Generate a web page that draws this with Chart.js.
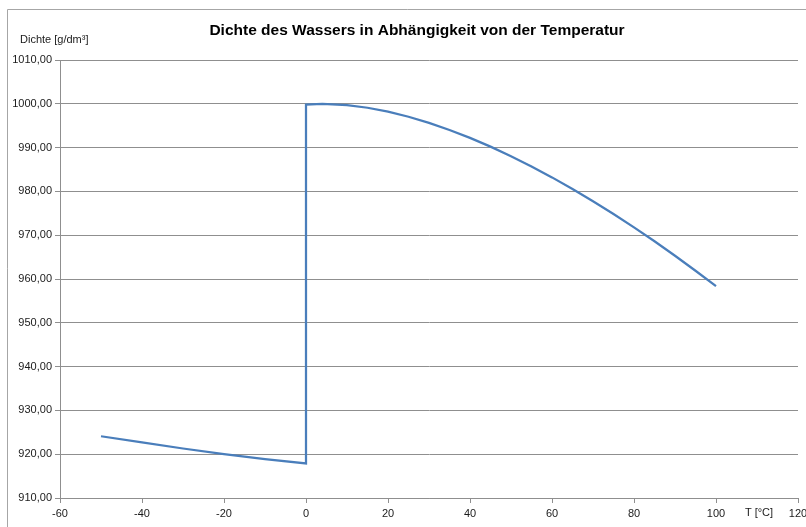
<!DOCTYPE html>
<html lang="de">
<head>
    <meta charset="UTF-8">
    <title>Dichte des Wassers</title>
    <style>
        body { margin: 0; background: #fff; }
        #wrap { position: relative; width: 806px; height: 527px; }
    </style>
    <script src="https://cdn.jsdelivr.net/npm/chart.js"></script>
</head>
<body>
    <div id="wrap"><canvas id="chart"></canvas></div>

    <script>
        // Temperatur [°C] und Dichte [g/dm³]
        const temps = [-50, -40, -30, -20, -10, 0,
                       0, 4, 10, 15, 20, 25, 30, 35, 40, 45, 50, 55, 60, 65, 70, 75, 80, 85, 90, 95, 100];
        const density = [924.1, 922.7, 921.3, 920.0, 918.9, 917.9,
                         999.84, 999.97, 999.70, 999.10, 998.21, 997.05, 995.65, 994.03, 992.22, 990.22,
                         988.04, 985.69, 983.20, 980.55, 977.76, 974.84, 971.79, 968.61, 965.31, 961.89, 958.36];

        const title = 'Dichte des Wassers in Abhängigkeit von der Temperatur';
        const yLabel = 'Dichte [g/dm³]';
        const xLabel = 'T [°C]';

        const font = "'Liberation Sans', Arial, sans-serif";
        const gridCol = '#8f8f8f';

        const points = temps.map((t, i) => ({ x: t, y: density[i] }));

        // Rahmen und Beschriftungen wie im Excel-Diagramm
        const deco = {
            id: 'deco',
            beforeDraw(chart) {
                const ctx = chart.ctx;
                ctx.save();
                ctx.strokeStyle = '#a6a6a6';
                ctx.lineWidth = 1;
                ctx.beginPath();
                ctx.moveTo(7.5, 540);
                ctx.lineTo(7.5, 9.5);
                ctx.lineTo(820, 9.5);
                ctx.stroke();
                ctx.restore();
            },
            afterDraw(chart) {
                const ctx = chart.ctx;
                const area = chart.chartArea;
                ctx.save();
                ctx.fillStyle = '#000';
                ctx.textBaseline = 'middle';
                ctx.textAlign = 'center';
                ctx.font = 'bold 15.5px ' + font;
                ctx.fillText(title, 417, 31);
                ctx.font = '11px ' + font;
                ctx.fillStyle = '#1a1a1a';
                ctx.textAlign = 'left';
                ctx.fillText(yLabel, 20, 40);
                ctx.textAlign = 'center';
                ctx.fillText(xLabel, 759, area.bottom + 15);
                ctx.restore();
            }
        };

        new Chart(document.getElementById('chart'), {
            type: 'scatter',
            data: {
                datasets: [{
                    data: points,
                    showLine: true,
                    borderColor: '#4a7ebb',
                    borderWidth: 2.25,
                    pointRadius: 0,
                    tension: 0
                }]
            },
            options: {
                responsive: true,
                maintainAspectRatio: false,
                animation: false,
                layout: { padding: { left: 0, right: 8, top: 60, bottom: 0 } },
                plugins: {
                    legend: { display: false },
                    tooltip: { enabled: false }
                },
                scales: {
                    x: {
                        type: 'linear',
                        min: -60,
                        max: 120,
                        afterFit(s) { s.height = 29; s.paddingLeft = 0; s.paddingRight = 0; },
                        ticks: {
                            stepSize: 20,
                            padding: 4,
                            maxRotation: 0,
                            color: '#1a1a1a',
                            font: { family: font, size: 11 }
                        },
                        grid: { drawOnChartArea: false, drawTicks: true, tickLength: 5, color: gridCol },
                        border: { color: gridCol }
                    },
                    y: {
                        min: 910,
                        max: 1010,
                        afterFit(s) { s.width = 60; s.paddingTop = 0; s.paddingBottom = 0; },
                        ticks: {
                            stepSize: 10,
                            padding: 3,
                            color: '#1a1a1a',
                            font: { family: font, size: 11 },
                            callback: v => v.toFixed(2).replace('.', ',')
                        },
                        grid: { color: gridCol, tickLength: 5 },
                        border: { color: gridCol }
                    }
                }
            },
            plugins: [deco]
        });
    </script>
</body>
</html>
